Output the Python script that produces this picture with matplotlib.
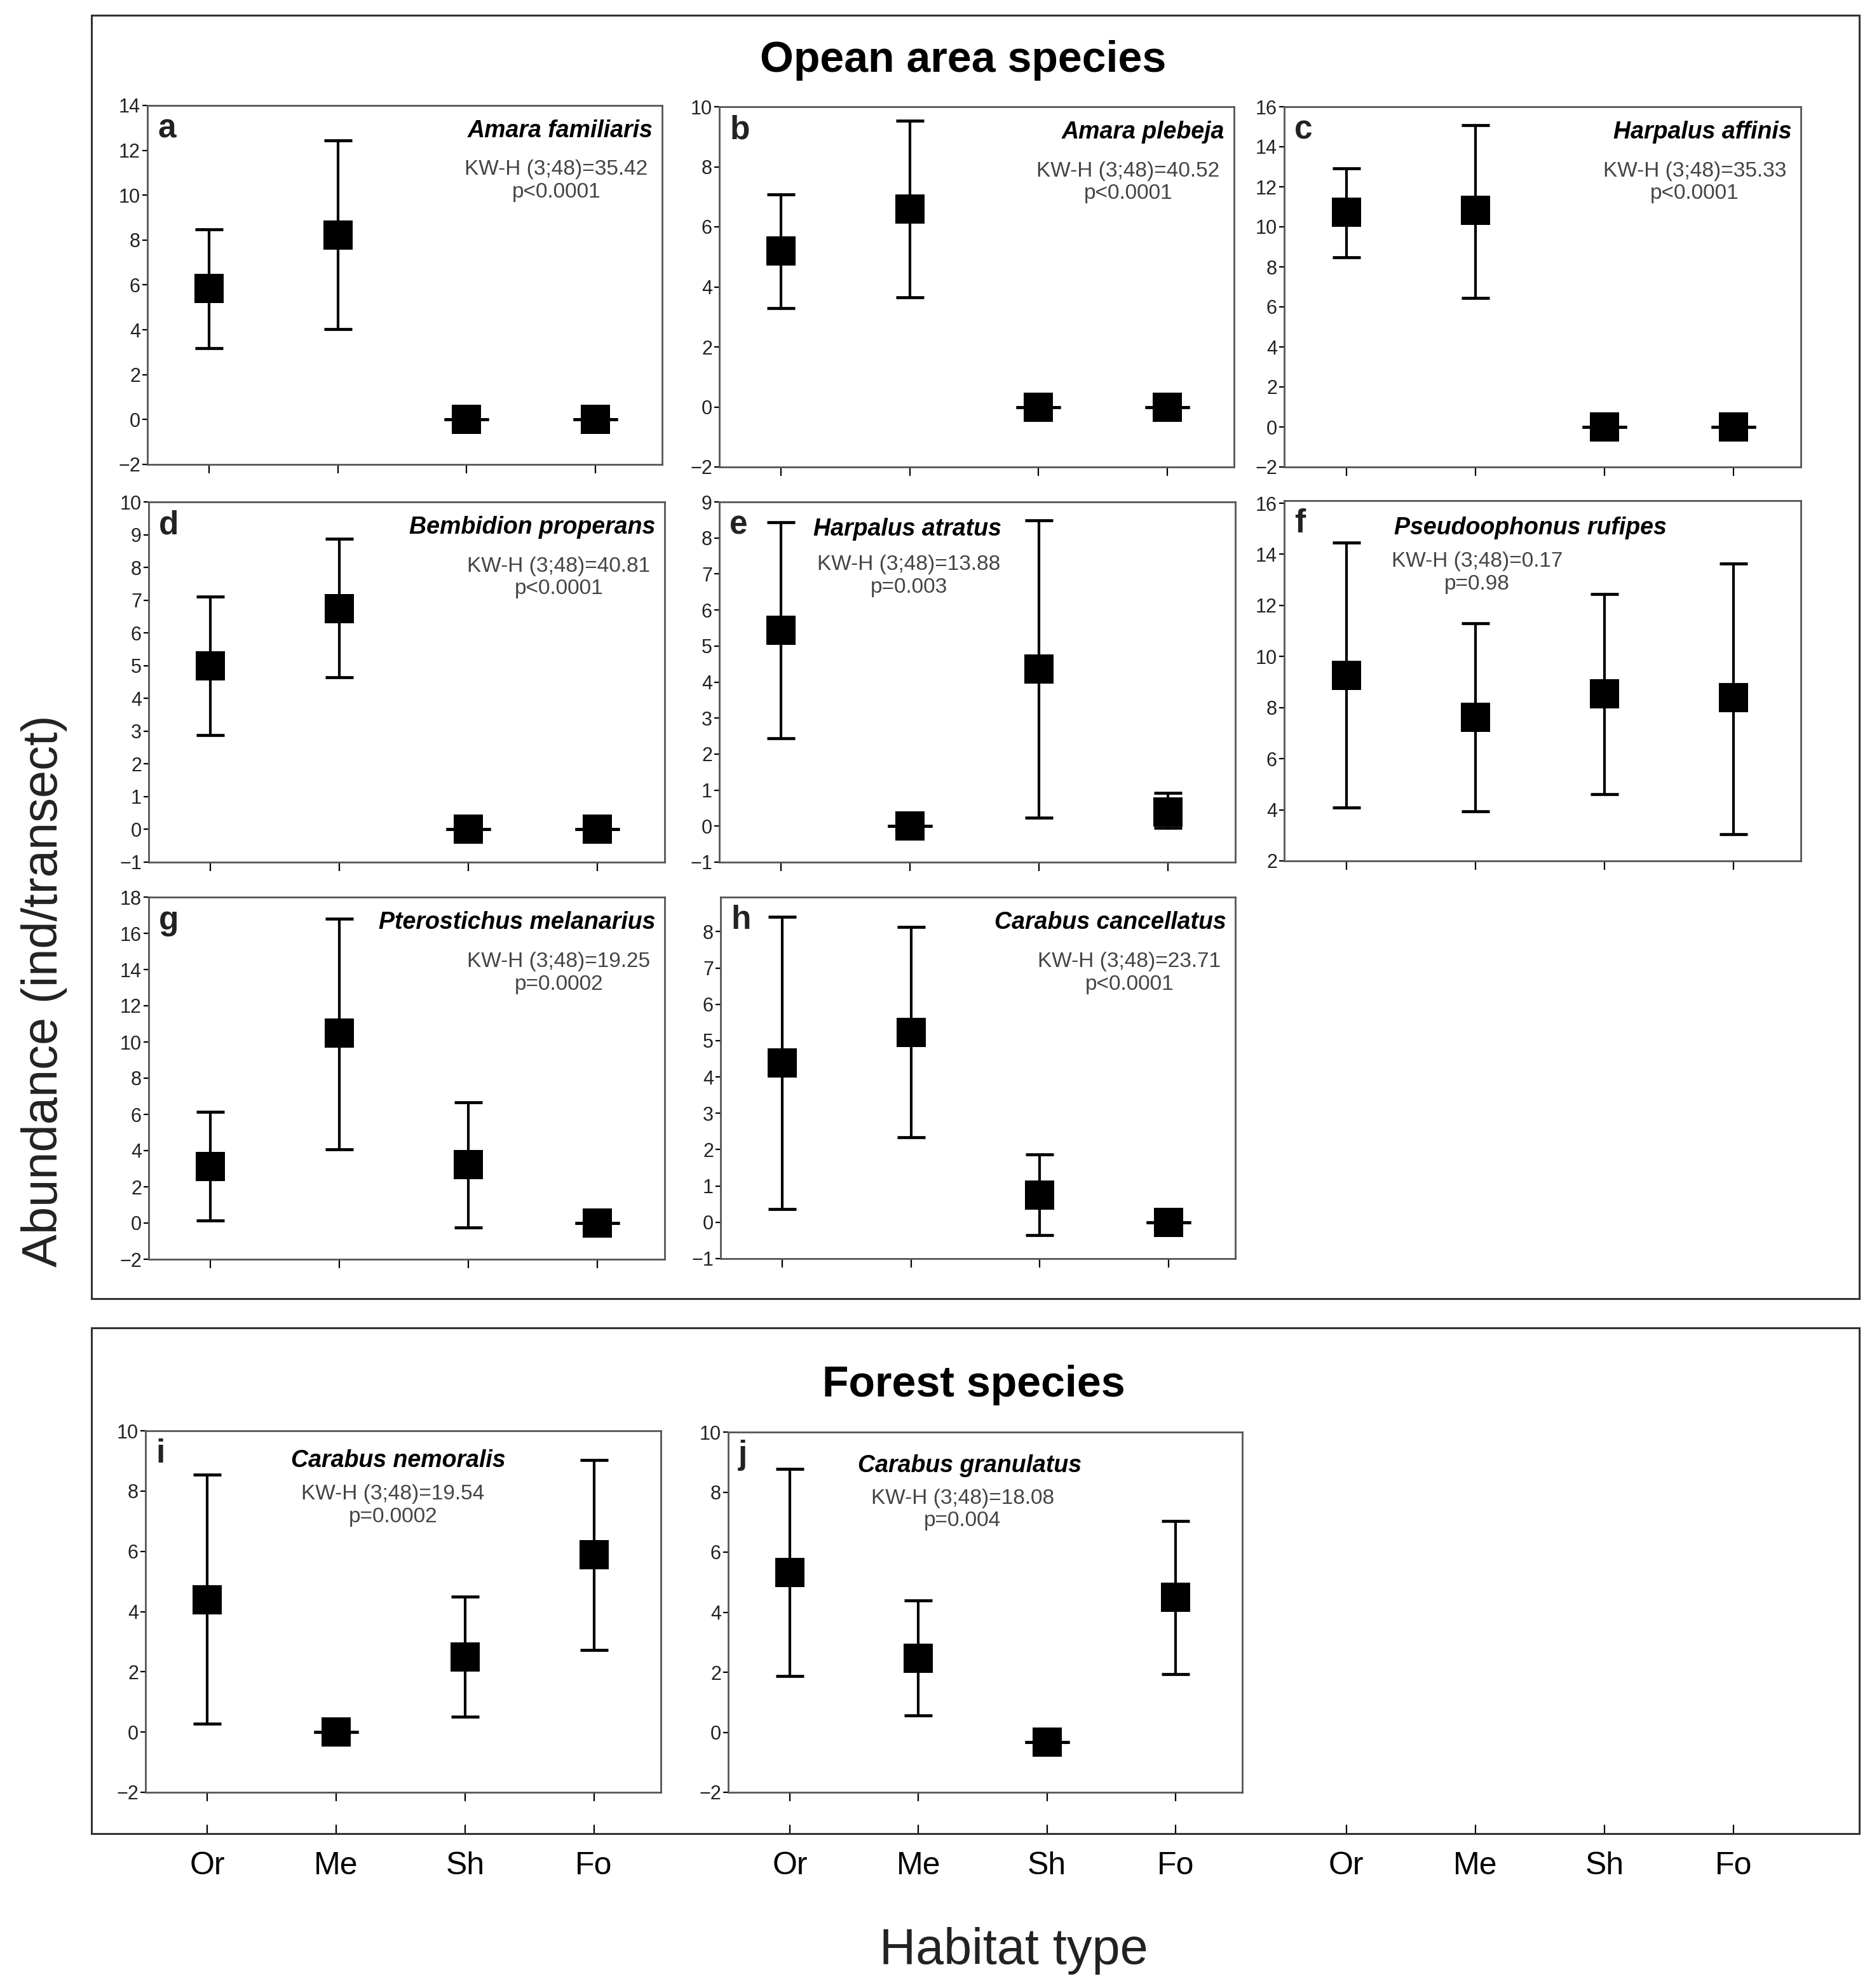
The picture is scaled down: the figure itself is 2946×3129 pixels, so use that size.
import numpy as np
import matplotlib.pyplot as plt
from matplotlib.patches import Rectangle

# habitat categories (x axis)
habitats = ["Or", "Me", "Sh", "Fo"]

# panel labels, species names and test results
letters = ["a", "b", "c", "d", "e", "f", "g", "h", "i", "j"]
species = ["Amara familiaris", "Amara plebeja", "Harpalus affinis",
           "Bembidion properans", "Harpalus atratus", "Pseudoophonus rufipes",
           "Pterostichus melanarius", "Carabus cancellatus",
           "Carabus nemoralis", "Carabus granulatus"]
kw_h = ["35.42", "40.52", "35.33", "40.81", "13.88", "0.17",
        "19.25", "23.71", "19.54", "18.08"]
p_text = ["p<0.0001", "p<0.0001", "p<0.0001", "p<0.0001", "p=0.003", "p=0.98",
          "p=0.0002", "p<0.0001", "p=0.0002", "p=0.004"]

# means and error bar limits (Or, Me, Sh, Fo)
mean_a = [5.85, 8.23, 0, 0]
low_a = [3.18, 4.04, 0, 0]
high_a = [8.48, 12.44, 0, 0]

mean_b = [5.19, 6.59, 0, 0]
low_b = [3.30, 3.66, 0, 0]
high_b = [7.07, 9.53, 0, 0]

mean_c = [10.74, 10.83, 0, 0]
low_c = [8.48, 6.46, 0, 0]
high_c = [12.92, 15.09, 0, 0]

mean_d = [5.0, 6.75, 0, 0]
low_d = [2.88, 4.64, 0, 0]
high_d = [7.1, 8.88, 0, 0]

mean_e = [5.43, 0, 4.36, 0.4]
low_e = [2.44, 0, 0.24, -0.04]
high_e = [8.43, 0, 8.48, 0.93]

mean_f = [9.26, 7.62, 8.53, 8.38]
low_f = [4.08, 3.95, 4.6, 3.05]
high_f = [14.47, 11.31, 12.44, 13.65]

mean_g = [3.12, 10.5, 3.22, 0]
low_g = [0.14, 4.08, -0.23, 0]
high_g = [6.15, 16.8, 6.66, 0]

mean_h = [4.38, 5.22, 0.75, 0]
low_h = [0.36, 2.34, -0.35, 0]
high_h = [8.41, 8.12, 1.87, 0]

mean_i = [4.39, 0, 2.49, 5.88]
low_i = [0.27, 0, 0.51, 2.73]
high_i = [8.55, 0, 4.49, 9.03]

mean_j = [5.32, 2.47, -0.32, 4.49]
low_j = [1.88, 0.57, -0.32, 1.93]
high_j = [8.77, 4.39, -0.32, 7.03]

means = [mean_a, mean_b, mean_c, mean_d, mean_e, mean_f, mean_g, mean_h, mean_i, mean_j]
lows = [low_a, low_b, low_c, low_d, low_e, low_f, low_g, low_h, low_i, low_j]
highs = [high_a, high_b, high_c, high_d, high_e, high_f, high_g, high_h, high_i, high_j]

# y axis ranges and tick steps
ylims = [(-2, 14), (-2, 10), (-2, 16), (-1, 10), (-1, 9), (2, 16.1),
         (-2, 18), (-1, 8.95), (-2, 10), (-2, 10)]
ysteps = [2, 2, 2, 1, 1, 2, 2, 1, 2, 2]

W, H = 2946, 3129
DPI = 200
fig = plt.figure(figsize=(W / DPI, H / DPI), dpi=DPI)

narrow = ["Liberation Sans Narrow", "Liberation Sans", "DejaVu Sans"]
plain = ["Liberation Sans", "DejaVu Sans"]


def box(l, t, r, b):
    return [l / W, 1 - b / H, (r - l) / W, (b - t) / H]


# panel boxes in pixels (left, top, right, bottom)
boxes = [(232, 166, 1042, 731), (1132, 168, 1942, 735), (2021, 168, 2834, 735),
         (234, 790, 1046, 1357), (1132, 790, 1944, 1357), (2021, 788, 2834, 1355),
         (234, 1412, 1046, 1982), (1134, 1412, 1944, 1981),
         (229, 2252, 1040, 2821), (1146, 2254, 1955, 2821)]

# text placement inside each panel
name_pos = [(0.982, "right"), (0.982, "right"), (0.982, "right"),
            (0.982, "right"), (0.365, "center"), (0.477, "center"),
            (0.982, "right"), (0.982, "right"), (0.49, "center"), (0.47, "center")]
kw_pos = [0.972, 0.972, 0.972, 0.972, 0.367, 0.373, 0.972, 0.972, 0.48, 0.456]
name_y = [0.93, 0.93, 0.93, 0.93, 0.924, 0.925, 0.93, 0.93, 0.917, 0.907]
kw_y = [0.79, 0.79, 0.79, 0.79, 0.795, 0.80, 0.79, 0.79, 0.793, 0.785]

x = np.arange(len(habitats))

for k in range(10):
    ax = fig.add_axes(box(*boxes[k]))
    for i in range(len(habitats)):
        m, lo, hi = means[k][i], lows[k][i], highs[k][i]
        cs = 12.5 if hi - lo == 0 else 8.0
        ax.errorbar(x[i], m, yerr=[[m - lo], [hi - m]], fmt="none", ecolor="black",
                    elinewidth=1.5, capsize=cs, capthick=1.7, zorder=2)
    ax.plot(x, means[k], linestyle="none", marker="s", markersize=16.5,
            markeredgewidth=0, color="black", zorder=3)

    ax.set_xlim(-0.48, 3.52)
    ax.set_ylim(*ylims[k])
    lo_t = int(np.ceil(ylims[k][0]))
    hi_t = int(np.floor(ylims[k][1]))
    ax.set_yticks(np.arange(lo_t, hi_t + 0.01, ysteps[k]))
    ax.set_xticks(x)
    ax.set_xticklabels([])
    ax.tick_params(axis="y", labelsize=11, length=3, width=0.8, pad=1)
    ax.tick_params(axis="x", length=5, width=0.8, direction="out")
    for lab in ax.get_yticklabels():
        lab.set_family(narrow)
        lab.set_color("#222222")
    for s in ax.spines.values():
        s.set_color("#555555")
        s.set_linewidth(1.0)

    ax.text(0.02, 0.935, letters[k], transform=ax.transAxes, fontsize=18.5,
            fontweight="bold", family=plain, ha="left", va="center", color="#222222")
    nx, ha = name_pos[k]
    ax.text(nx, name_y[k], species[k], transform=ax.transAxes, fontsize=13.5,
            fontweight="bold", style="italic", family=narrow, ha=ha, va="center")
    kw = "KW-H (3;48)=" + kw_h[k] + "\n" + p_text[k]
    ax.text(kw_pos[k], kw_y[k], kw, transform=ax.transAxes, fontsize=12,
            family=narrow, ha=ha, va="center", multialignment="center",
            color="#444444", linespacing=1.2)

# outer frames
for (l, t, r, b) in [(144, 24, 2926, 2044), (144, 2090, 2926, 2886)]:
    fig.add_artist(Rectangle((l / W, 1 - b / H), (r - l) / W, (b - t) / H,
                             transform=fig.transFigure, fill=False,
                             edgecolor="#333333", linewidth=1.1))

fig.text(1516 / W, 1 - 95 / H, "Opean area species", fontsize=24.5, fontweight="bold",
         family=plain, ha="center", va="center")
fig.text(1532 / W, 1 - 2180 / H, "Forest species", fontsize=24.5, fontweight="bold",
         family=plain, ha="center", va="center")

# bottom category labels on the lower frame, one group per column
for (l, r) in [(229, 1040), (1146, 1955), (2021, 2834)]:
    bx = fig.add_axes(box(l, 2885, r, 2886))
    bx.set_xlim(-0.48, 3.52)
    bx.set_xticks(x)
    bx.set_xticklabels(habitats, family=narrow, fontsize=18)
    bx.tick_params(axis="x", direction="in", length=5, width=0.8, pad=10)
    bx.set_yticks([])
    bx.patch.set_alpha(0)
    for s in bx.spines.values():
        s.set_visible(False)

fig.text(70 / W, 1 - 1560 / H, "Abundance (ind/transect)", fontsize=28,
         family=plain, rotation=90, ha="center", va="center", color="#222222")
fig.text(1595 / W, 1 - 3070 / H, "Habitat type", fontsize=28.5,
         family=plain, ha="center", va="center", color="#222222")

fig.savefig("out.png", dpi=DPI)
